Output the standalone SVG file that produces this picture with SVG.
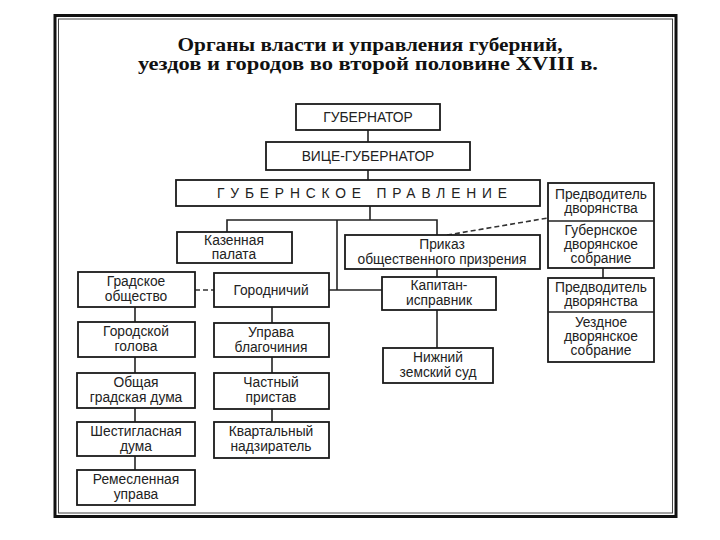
<svg xmlns="http://www.w3.org/2000/svg" width="720" height="540" viewBox="0 0 720 540">
<style>
.b{fill:#fff;stroke:#1a1a1a;stroke-width:1.8}
.t{font-family:"Liberation Sans",Arial,sans-serif;font-size:13.8px;fill:#222;text-anchor:middle}
.h{font-family:"Liberation Serif","Times New Roman",serif;font-size:19px;font-weight:bold;fill:#111;text-anchor:middle}
.c{fill:none;stroke:#222;stroke-width:1.6}
.d{fill:none;stroke:#333;stroke-width:1.6;stroke-dasharray:5 3}
</style>
<rect width="720" height="540" fill="#fff"/>
<rect x="55" y="15.5" width="621" height="501" fill="none" stroke="#111" stroke-width="3"/>
<rect x="58.5" y="19" width="614" height="494" fill="none" stroke="#444" stroke-width="1"/>
<text class="h" x="370" y="51" textLength="385" lengthAdjust="spacingAndGlyphs">Органы власти и управления губерний,</text>
<text class="h" x="368" y="70" textLength="460" lengthAdjust="spacingAndGlyphs">уездов и городов во второй половине XVIII в.</text>
<g id="connectors">
<line class="c" x1="368" y1="130" x2="368" y2="142"/>
<line class="c" x1="368" y1="170" x2="368" y2="180"/>
<polyline class="c" points="370,206 370,220"/>
<polyline class="c" points="227,232 227,220 437,220 437,235"/>
<polyline class="c" points="337,220 337,290"/>
<line class="c" x1="329" y1="290" x2="382" y2="290"/>
<line class="c" x1="437" y1="269" x2="437" y2="277"/>
<line class="c" x1="437" y1="310" x2="437" y2="348"/>
<line class="d" x1="447" y1="235" x2="548" y2="218"/>
<line class="c" x1="603" y1="268" x2="603" y2="278"/>
<line class="d" x1="195" y1="290" x2="214" y2="290"/>
<line class="c" x1="135" y1="307" x2="135" y2="322"/>
<line class="c" x1="135" y1="357" x2="135" y2="373"/>
<line class="c" x1="135" y1="408" x2="135" y2="422"/>
<line class="c" x1="135" y1="456" x2="135" y2="470"/>
<line class="c" x1="272" y1="307" x2="272" y2="323"/>
<line class="c" x1="272" y1="357" x2="272" y2="373"/>
<line class="c" x1="272" y1="409" x2="272" y2="422"/>
</g>
<g id="gubernator"><rect class="b" x="296" y="104" width="144" height="26"/><text class="t" x="368" y="122">ГУБЕРНАТОР</text></g>
<g id="vice"><rect class="b" x="266" y="142" width="204" height="28"/><text class="t" x="368" y="161">ВИЦЕ-ГУБЕРНАТОР</text></g>
<g id="pravlenie"><rect class="b" x="176" y="180" width="364" height="26"/><text class="t" x="362" y="198" textLength="290" lengthAdjust="spacing">ГУБЕРНСКОЕ ПРАВЛЕНИЕ</text></g>
<g id="gub-dvor"><rect class="b" x="548" y="183" width="106" height="85"/><line class="c" x1="548" y1="221" x2="654" y2="221"/>
<text class="t" x="601" y="199">Предводитель</text><text class="t" x="601" y="213">дворянства</text>
<text class="t" x="601" y="235">Губернское</text><text class="t" x="601" y="249">дворянское</text><text class="t" x="601" y="263">собрание</text></g>
<g id="uezd-dvor"><rect class="b" x="548" y="278" width="106" height="84"/><line class="c" x1="548" y1="312" x2="654" y2="312"/>
<text class="t" x="601" y="292">Предводитель</text><text class="t" x="601" y="306">дворянства</text>
<text class="t" x="601" y="327">Уездное</text><text class="t" x="601" y="341">дворянское</text><text class="t" x="601" y="355">собрание</text></g>
<g id="kazennaya"><rect class="b" x="177" y="232" width="115" height="31"/><text class="t" x="234" y="245">Казенная</text><text class="t" x="234" y="259">палата</text></g>
<g id="prikaz"><rect class="b" x="345" y="235" width="195" height="34"/><text class="t" x="442" y="249">Приказ</text><text class="t" x="442" y="264">общественного призрения</text></g>
<g id="gradskoe"><rect class="b" x="78" y="272" width="117" height="35"/><text class="t" x="136" y="286">Градское</text><text class="t" x="136" y="301">общество</text></g>
<g id="gorodnichiy"><rect class="b" x="214" y="273" width="115" height="34"/><text class="t" x="271" y="295">Городничий</text></g>
<g id="kapitan"><rect class="b" x="382" y="277" width="114" height="33"/><text class="t" x="439" y="290">Капитан-</text><text class="t" x="439" y="305">исправник</text></g>
<g id="golova"><rect class="b" x="78" y="322" width="117" height="35"/><text class="t" x="136" y="336">Городской</text><text class="t" x="136" y="351">голова</text></g>
<g id="uprava-blag"><rect class="b" x="214" y="323" width="115" height="34"/><text class="t" x="271" y="337">Управа</text><text class="t" x="271" y="352">благочиния</text></g>
<g id="nizhniy"><rect class="b" x="383" y="348" width="110" height="35"/><text class="t" x="438" y="362">Нижний</text><text class="t" x="438" y="377">земский суд</text></g>
<g id="obshaya"><rect class="b" x="77" y="373" width="118" height="35"/><text class="t" x="136" y="387">Общая</text><text class="t" x="136" y="402">градская дума</text></g>
<g id="chastny"><rect class="b" x="214" y="373" width="115" height="36"/><text class="t" x="271" y="387">Частный</text><text class="t" x="271" y="402">пристав</text></g>
<g id="shestiglasnaya"><rect class="b" x="77" y="422" width="118" height="34"/><text class="t" x="136" y="436">Шестигласная</text><text class="t" x="136" y="451">дума</text></g>
<g id="kvartalny"><rect class="b" x="214" y="422" width="115" height="36"/><text class="t" x="271" y="436">Квартальный</text><text class="t" x="271" y="451">надзиратель</text></g>
<g id="remeslennaya"><rect class="b" x="77" y="470" width="118" height="35"/><text class="t" x="136" y="484">Ремесленная</text><text class="t" x="136" y="499">управа</text></g>
</svg>
